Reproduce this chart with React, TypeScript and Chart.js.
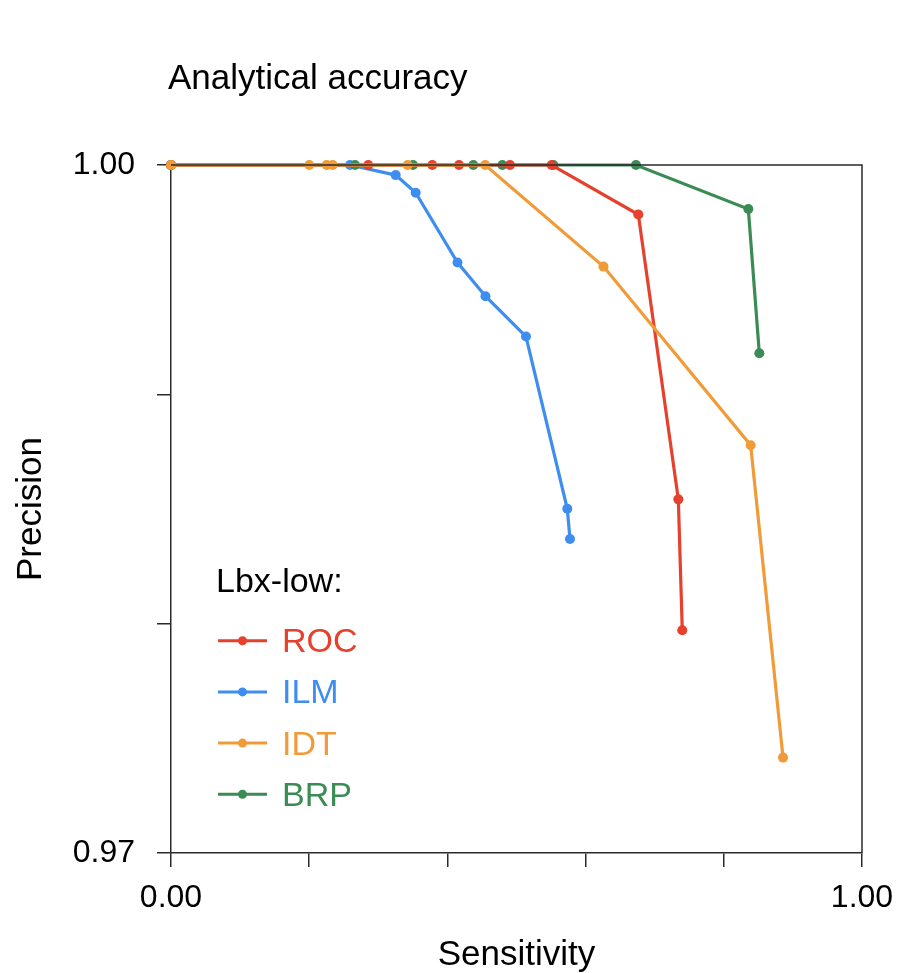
import React, { useEffect, useRef } from 'react';
import { Chart, registerables } from 'chart.js';

Chart.register(...registerables);

const FONT = '"Liberation Sans", Arial, Helvetica, sans-serif';

const chartTitle = 'Analytical accuracy';
const xAxisTitle = 'Sensitivity';
const yAxisTitle = 'Precision';
const legendTitle = 'Lbx-low:';

const seriesNames = ['ROC', 'ILM', 'IDT', 'BRP'];
const seriesColors = ['#E5412D', '#3E8EF0', '#F19B38', '#3B8B55'];
const seriesDrawOrder = [1, 3, 0, 2];

const rocSensitivity = [0, 0.2855, 0.3781, 0.4168, 0.4906, 0.5509, 0.6763, 0.7342, 0.7399];
const rocPrecision = [1, 1, 1, 1, 1, 1, 0.99784, 0.98542, 0.97971];

const ilmSensitivity = [0, 0.259, 0.3252, 0.3541, 0.4146, 0.4551, 0.5137, 0.5735, 0.5774];
const ilmPrecision = [1, 1, 0.99956, 0.99879, 0.99575, 0.99428, 0.99252, 0.98501, 0.98369];

const idtSensitivity = [0, 0.2001, 0.2253, 0.234, 0.3425, 0.4547, 0.6259, 0.8389, 0.8857];
const idtPrecision = [1, 1, 1, 1, 1, 1, 0.99557, 0.98778, 0.97416];

const brpSensitivity = [0, 0.2663, 0.3502, 0.4375, 0.4795, 0.5533, 0.6729, 0.8355, 0.8514];
const brpPrecision = [1, 1, 1, 1, 1, 1, 1, 0.99808, 0.99179];

const xMin = 0;
const xMax = 1;
const xStep = 0.2;
const xLabelled = [0, 1];
const yMin = 0.97;
const yMax = 1.0;
const yStep = 0.01;
const yLabelled = [0.97, 1.0];

const seriesX = [rocSensitivity, ilmSensitivity, idtSensitivity, brpSensitivity];
const seriesY = [rocPrecision, ilmPrecision, idtPrecision, brpPrecision];

const AXIS_COLOR = '#2a2a2a';

const decorPlugin = {
  id: 'decor',
  afterDraw(chart: any) {
    const { ctx, chartArea } = chart;
    const { left, right, top, bottom } = chartArea;
    ctx.save();
    // frame top and right
    ctx.strokeStyle = AXIS_COLOR;
    ctx.lineWidth = 1.5;
    ctx.beginPath();
    ctx.moveTo(left, top);
    ctx.lineTo(right, top);
    ctx.lineTo(right, bottom);
    ctx.stroke();

    // title
    ctx.fillStyle = '#000';
    ctx.font = `35px ${FONT}`;
    ctx.textAlign = 'left';
    ctx.textBaseline = 'alphabetic';
    ctx.fillText(chartTitle, 168, 89);

    // x axis title
    ctx.textAlign = 'center';
    ctx.fillText(xAxisTitle, (left + right) / 2, 965);

    // y axis title
    ctx.save();
    ctx.translate(41, (top + bottom) / 2);
    ctx.rotate(-Math.PI / 2);
    ctx.textAlign = 'center';
    ctx.fillText(yAxisTitle, 0, 0);
    ctx.restore();

    // legend
    ctx.font = `34px ${FONT}`;
    ctx.textAlign = 'left';
    ctx.fillText(legendTitle, 216, 592);
    chart.data.datasets.forEach((ds: any, i: number) => {
      const y = 640.7 + i * 51.2;
      ctx.strokeStyle = ds.borderColor;
      ctx.lineWidth = 3;
      ctx.beginPath();
      ctx.moveTo(218, y);
      ctx.lineTo(267, y);
      ctx.stroke();
      ctx.fillStyle = ds.borderColor;
      ctx.beginPath();
      ctx.arc(242.5, y, 4.5, 0, Math.PI * 2);
      ctx.fill();
      ctx.fillText(ds.label, 282, y + 11.5);
    });
    ctx.restore();
  },
};

export default function App() {
  const canvasRef = useRef<HTMLCanvasElement | null>(null);

  useEffect(() => {
    const canvas = canvasRef.current;
    if (!canvas) return;
    const datasets = seriesNames.map((name, i) => ({
      label: name,
      data: seriesX[i].map((x, j) => ({ x, y: seriesY[i][j] })),
      borderColor: seriesColors[i],
      backgroundColor: seriesColors[i],
      pointBackgroundColor: seriesColors[i],
      pointBorderWidth: 0,
      pointRadius: 5,
      borderWidth: 3.2,
      tension: 0,
      clip: false as any,
      order: seriesDrawOrder[i],
    }));

    const chart = new Chart(canvas, {
      type: 'line',
      data: { datasets },
      options: {
        animation: false,
        responsive: false,
        devicePixelRatio: 1,
        layout: { padding: { left: 0, right: 37, top: 165, bottom: 0 } },
        plugins: {
          legend: { display: false },
          title: { display: false },
          tooltip: { enabled: false },
        },
        scales: {
          x: {
            type: 'linear',
            min: xMin,
            max: xMax,
            afterFit: (s: any) => {
              s.height = 120;
              s.paddingLeft = 0;
              s.paddingRight = 0;
            },
            ticks: {
              stepSize: xStep,
              autoSkip: false,
              maxRotation: 0,
              padding: 12,
              color: '#000',
              font: { family: FONT, size: 32 },
              callback: (v: any) => {
                const n = Number(v);
                return xLabelled.some((t) => Math.abs(t - n) < 1e-6) ? n.toFixed(2) : '';
              },
            },
            grid: {
              display: true,
              drawOnChartArea: false,
              drawTicks: true,
              tickLength: 14,
              color: AXIS_COLOR,
              lineWidth: 1.5,
            },
            border: { display: true, color: AXIS_COLOR, width: 1.5 },
          },
          y: {
            type: 'linear',
            min: yMin,
            max: yMax,
            afterFit: (s: any) => {
              s.width = 171;
              s.paddingTop = 0;
              s.paddingBottom = 0;
            },
            ticks: {
              stepSize: yStep,
              autoSkip: false,
              padding: 22,
              color: '#000',
              font: { family: FONT, size: 32 },
              callback: (v: any) => {
                const n = Number(v);
                return yLabelled.some((t) => Math.abs(t - n) < 1e-6) ? n.toFixed(2) : '';
              },
            },
            grid: {
              display: true,
              drawOnChartArea: false,
              drawTicks: true,
              tickLength: 14,
              color: AXIS_COLOR,
              lineWidth: 1.5,
            },
            border: { display: true, color: AXIS_COLOR, width: 1.5 },
          },
        },
      },
      plugins: [decorPlugin],
    });
    return () => chart.destroy();
  }, []);

  return (
    <div style={{ position: 'absolute', left: 0, top: 0, width: 899, height: 973, background: '#fff' }}>
      <canvas ref={canvasRef} width={899} height={973} style={{ width: 899, height: 973, display: 'block' }} />
    </div>
  );
}
